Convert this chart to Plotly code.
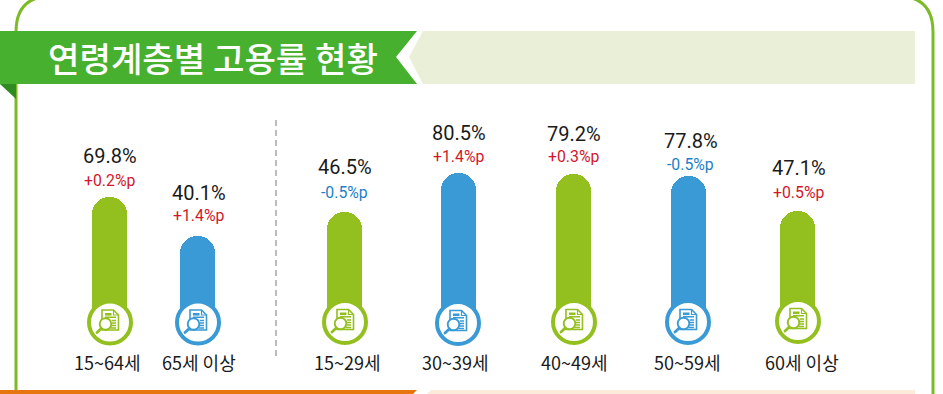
import base64
import plotly.graph_objects as go

# ---- data ----
title_text = "연령계층별 고용률 현황"
left_categories = ["15~64세", "65세 이상"]
left_values = [69.8, 40.1]
left_changes = ["+0.2%p", "+1.4%p"]
right_categories = ["15~29세", "30~39세", "40~49세", "50~59세", "60세 이상"]
right_values = [46.5, 80.5, 79.2, 77.8, 47.1]
right_changes = ["-0.5%p", "+1.4%p", "+0.3%p", "-0.5%p", "+0.5%p"]

# ---- layout / style ----
W, H = 943, 394
left_x = [109.7, 197.5]
right_x = [344.5, 458.5, 573.5, 688, 797.5]
GREEN, BLUE = "#93C01F", "#3A9AD6"
RED_T, BLUE_T = "#D0182C", "#1E7FC8"
left_colors = [GREEN, BLUE]
right_colors = [GREEN, BLUE, GREEN, BLUE, GREEN]
FONT = "Noto Sans CJK KR"
NUM_FONT = "Roboto"
BAR_BOTTOM = 322


def y_range(v_hi, px_hi, v_lo, px_lo):
    """Axis range such that the value scale maps to the wanted pixel rows of a 0..H plot."""
    k = (v_hi - v_lo) / (px_lo - px_hi)  # value per px
    return [v_hi - (H - px_hi) * k, v_hi + px_hi * k]


left_range = y_range(69.8, 197, 40.1, 236)
right_range = y_range(80.5, 173, 46.5, 212)


def bar_base(rng):
    return rng[0] + (H - BAR_BOTTOM) / H * (rng[1] - rng[0])


fig = go.Figure()
lb = bar_base(left_range)
rb = bar_base(right_range)
fig.add_trace(go.Bar(x=left_x, y=[v - lb for v in left_values], base=lb, width=35,
                     marker=dict(color=left_colors, line_width=0), yaxis="y", hoverinfo="skip"))
fig.add_trace(go.Bar(x=right_x, y=[v - rb for v in right_values], base=rb, width=35,
                     marker=dict(color=right_colors, line_width=0), yaxis="y2", hoverinfo="skip"))

shapes = []


def poly(points, fill):
    d = "M " + " L ".join(f"{x},{y}" for x, y in points) + " Z"
    shapes.append(dict(type="path", path=d, xref="x", yref="y3", fillcolor=fill,
                       line_width=0, layer="above"))


# rounded frame
shapes.append(dict(type="path", xref="x", yref="y3",
                   path="M 16,420 L 16,32 Q 16,-4 52,-4 L 897,-4 Q 933,-4 933,32 L 933,420",
                   line=dict(color="#7DBB26", width=3), layer="below"))
# header ribbons
poly([(0, 31), (417, 31), (396, 57), (417, 84), (0, 84)], "#47B02F")
poly([(0, 84), (16, 84), (16, 99)], "#2F8A1F")
poly([(423, 31), (915, 31), (915, 84), (423, 84), (409, 57)], "#EAF0D8")
# bottom strips
poly([(0, 390), (417, 390), (413, 394), (0, 394)], "#E8760F")
poly([(431, 390), (915, 390), (915, 394), (427, 394)], "#FBEBDB")
# dashed divider
shapes.append(dict(type="line", xref="x", yref="y3", x0=276, x1=276, y0=120, y1=358,
                   line=dict(color="#BDBDBD", width=2, dash="6px,4px"), layer="above"))


def icon(color):
    svg = f'''<svg xmlns="http://www.w3.org/2000/svg" width="50" height="50" viewBox="0 0 50 50">
<circle cx="25" cy="25" r="21" fill="#fff" stroke="{color}" stroke-width="4"/>
<path d="M17 12.5H28.5L33.5 17.5V32.5H17Z" fill="#fff" stroke="{color}" stroke-width="1.6"/>
<path d="M28.5 12.5V17.5H33.5" fill="none" stroke="{color}" stroke-width="1.2"/>
<rect x="20" y="15.5" width="6.5" height="2.6" fill="{color}"/>
<path d="M20 19.8H31M26.8 23H31M26.8 25.5H31M26.8 28H31M25.5 30.5H31" stroke="{color}" stroke-width="1.4"/>
<circle cx="20.5" cy="26.5" r="5.8" fill="#fff" stroke="{color}" stroke-width="1.9"/>
<path d="M16.2 31L12 35" stroke="{color}" stroke-width="2.8" stroke-linecap="round"/>
</svg>'''
    return "data:image/svg+xml;base64," + base64.b64encode(svg.encode()).decode()


annotations = []
images = []


def text(x, y, s, size, color, yref, yshift=0, weight=400, family=FONT):
    annotations.append(dict(x=x, y=y, xref="x", yref=yref, text=s, showarrow=False, yshift=yshift,
                            xanchor="center", yanchor="middle", align="center",
                            font=dict(family=family, size=size, color=color, weight=weight)))


def group(xs, values, changes, cats, colors, yref, val_shift, chg_shift, cy, cx, lx, nudge):
    for i, x in enumerate(xs):
        text(x + nudge[i], values[i], f"{values[i]}%", 20, "#1A1A1A", yref, val_shift[i], family=NUM_FONT)
        text(x + nudge[i], values[i], changes[i], 15.8,
             RED_T if changes[i].startswith("+") else BLUE_T, yref, chg_shift[i], family=NUM_FONT)
        text(lx[i], 362, cats[i], 18, "#1A1A1A", "y3")
        images.append(dict(source=icon(colors[i]), xref="x", yref="paper", x=cx[i] - 25,
                           y=(H - (cy[i] - 25)) / H, sizex=50, sizey=50 / H,
                           xanchor="left", yanchor="top", layer="above"))


group(left_x, left_values, left_changes, left_categories, left_colors, "y",
      [41, 43], [16.5, 20.5], [322.5, 322.5], [110, 198], [107.5, 198.5], [0, 1])
# label offsets are relative to the fitted scale position of each bar tip
group(right_x, right_values, right_changes, right_categories, right_colors, "y2",
      [45, 40, 40.5, 35, 43], [19.5, 17, 17.5, 12, 19], [322, 323, 322, 322, 321],
      [345, 458, 574, 688, 798], [347.5, 455, 574, 687.5, 802], [0, 0, 0, 2.5, 1])

text(213, 57, title_text, 34.2, "#FFFFFF", "y3", weight=500)

hidden = dict(visible=False, showgrid=False, zeroline=False, fixedrange=True)
fig.update_layout(
    width=W, height=H, margin=dict(l=0, r=0, t=0, b=0),
    paper_bgcolor="#FFFFFF", plot_bgcolor="#FFFFFF", showlegend=False,
    barcornerradius=17.5, bargap=0,
    xaxis=dict(range=[0, W], domain=[0, 1], **hidden),
    yaxis=dict(range=left_range, domain=[0, 1], **hidden),
    yaxis2=dict(range=right_range, domain=[0, 1], overlaying="y", **hidden),
    yaxis3=dict(range=[H, 0], domain=[0, 1], overlaying="y", **hidden),
    shapes=shapes, annotations=annotations, images=images,
)
fig.write_html("out.html", config=dict(displayModeBar=False),
               post_script="document.body.style.margin='0';document.body.style.overflow='hidden';")
